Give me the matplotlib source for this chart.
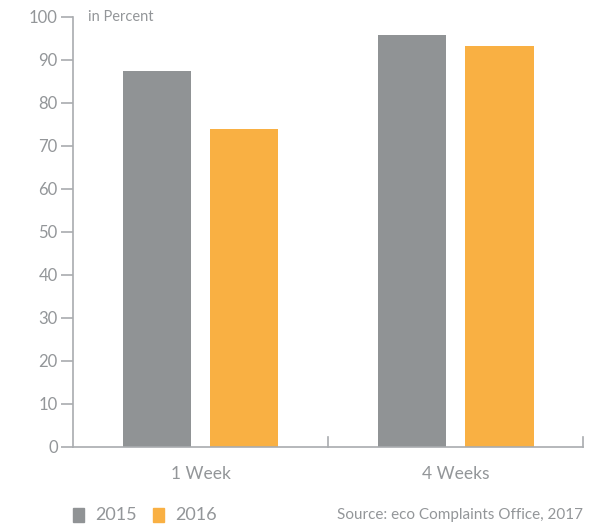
import numpy as np
import matplotlib.pyplot as plt
from matplotlib.patches import Rectangle

# Complaints handled within the period, in percent
categorias = ['1 Week', '4 Weeks']
anios = ['2015', '2016']
valores_2015 = [87.4, 95.8]
valores_2016 = [74.0, 93.3]

gris = '#909395'
naranja = '#f9b043'
texto = '#939699'
linea = '#a9acaf'

plt.rcParams['font.family'] = ['Lato', 'DejaVu Sans']

fig = plt.figure(figsize=(5.92, 5.26), dpi=100)
ax = fig.add_axes([0.1233, 0.1502, 0.8617, 0.8175])

x = np.arange(len(categorias))
ancho = 0.267
ax.bar(x - 0.172, valores_2015, ancho, color=gris)
ax.bar(x + 0.172, valores_2016, ancho, color=naranja)

ax.set_xlim(-0.5, 1.5)
ax.set_ylim(0, 100)
ax.set_yticks(range(0, 101, 10))
ax.set_xticks(x)
ax.set_xticklabels(categorias)

for lado in ['top', 'right']:
    ax.spines[lado].set_visible(False)
for lado in ['left', 'bottom']:
    ax.spines[lado].set_color(linea)
    ax.spines[lado].set_linewidth(1.2)

ax.tick_params(axis='y', colors=linea, labelcolor=texto, labelsize=12,
               length=9, width=1.2, pad=2)
ax.tick_params(axis='x', length=0, labelcolor=texto, labelsize=12.5, pad=14)

# small separators on the category axis
for pos in [0.5, 1.5]:
    ax.plot([pos, pos], [0, 2.3], color=linea, lw=1.2, clip_on=False)

ax.text(0.03, 100, 'in Percent', transform=ax.get_yaxis_transform(),
        color=texto, fontsize=10.5, va='center', ha='left')

# legend drawn by hand along the bottom
for i, (anio, color) in enumerate(zip(anios, [gris, naranja])):
    x0 = 73 / 592 + i * 80 / 592
    fig.patches.append(Rectangle((x0, 4 / 526), 11 / 592, 14 / 526,
                                 transform=fig.transFigure, color=color))
    fig.text(x0 + 22 / 592, 11 / 526, anio, color=texto, fontsize=13,
             va='center', ha='left')

fig.text(583 / 592, 11 / 526, 'Source: eco Complaints Office, 2017',
         color=texto, fontsize=11, va='center', ha='right')

fig.savefig('out.png', dpi=100)
